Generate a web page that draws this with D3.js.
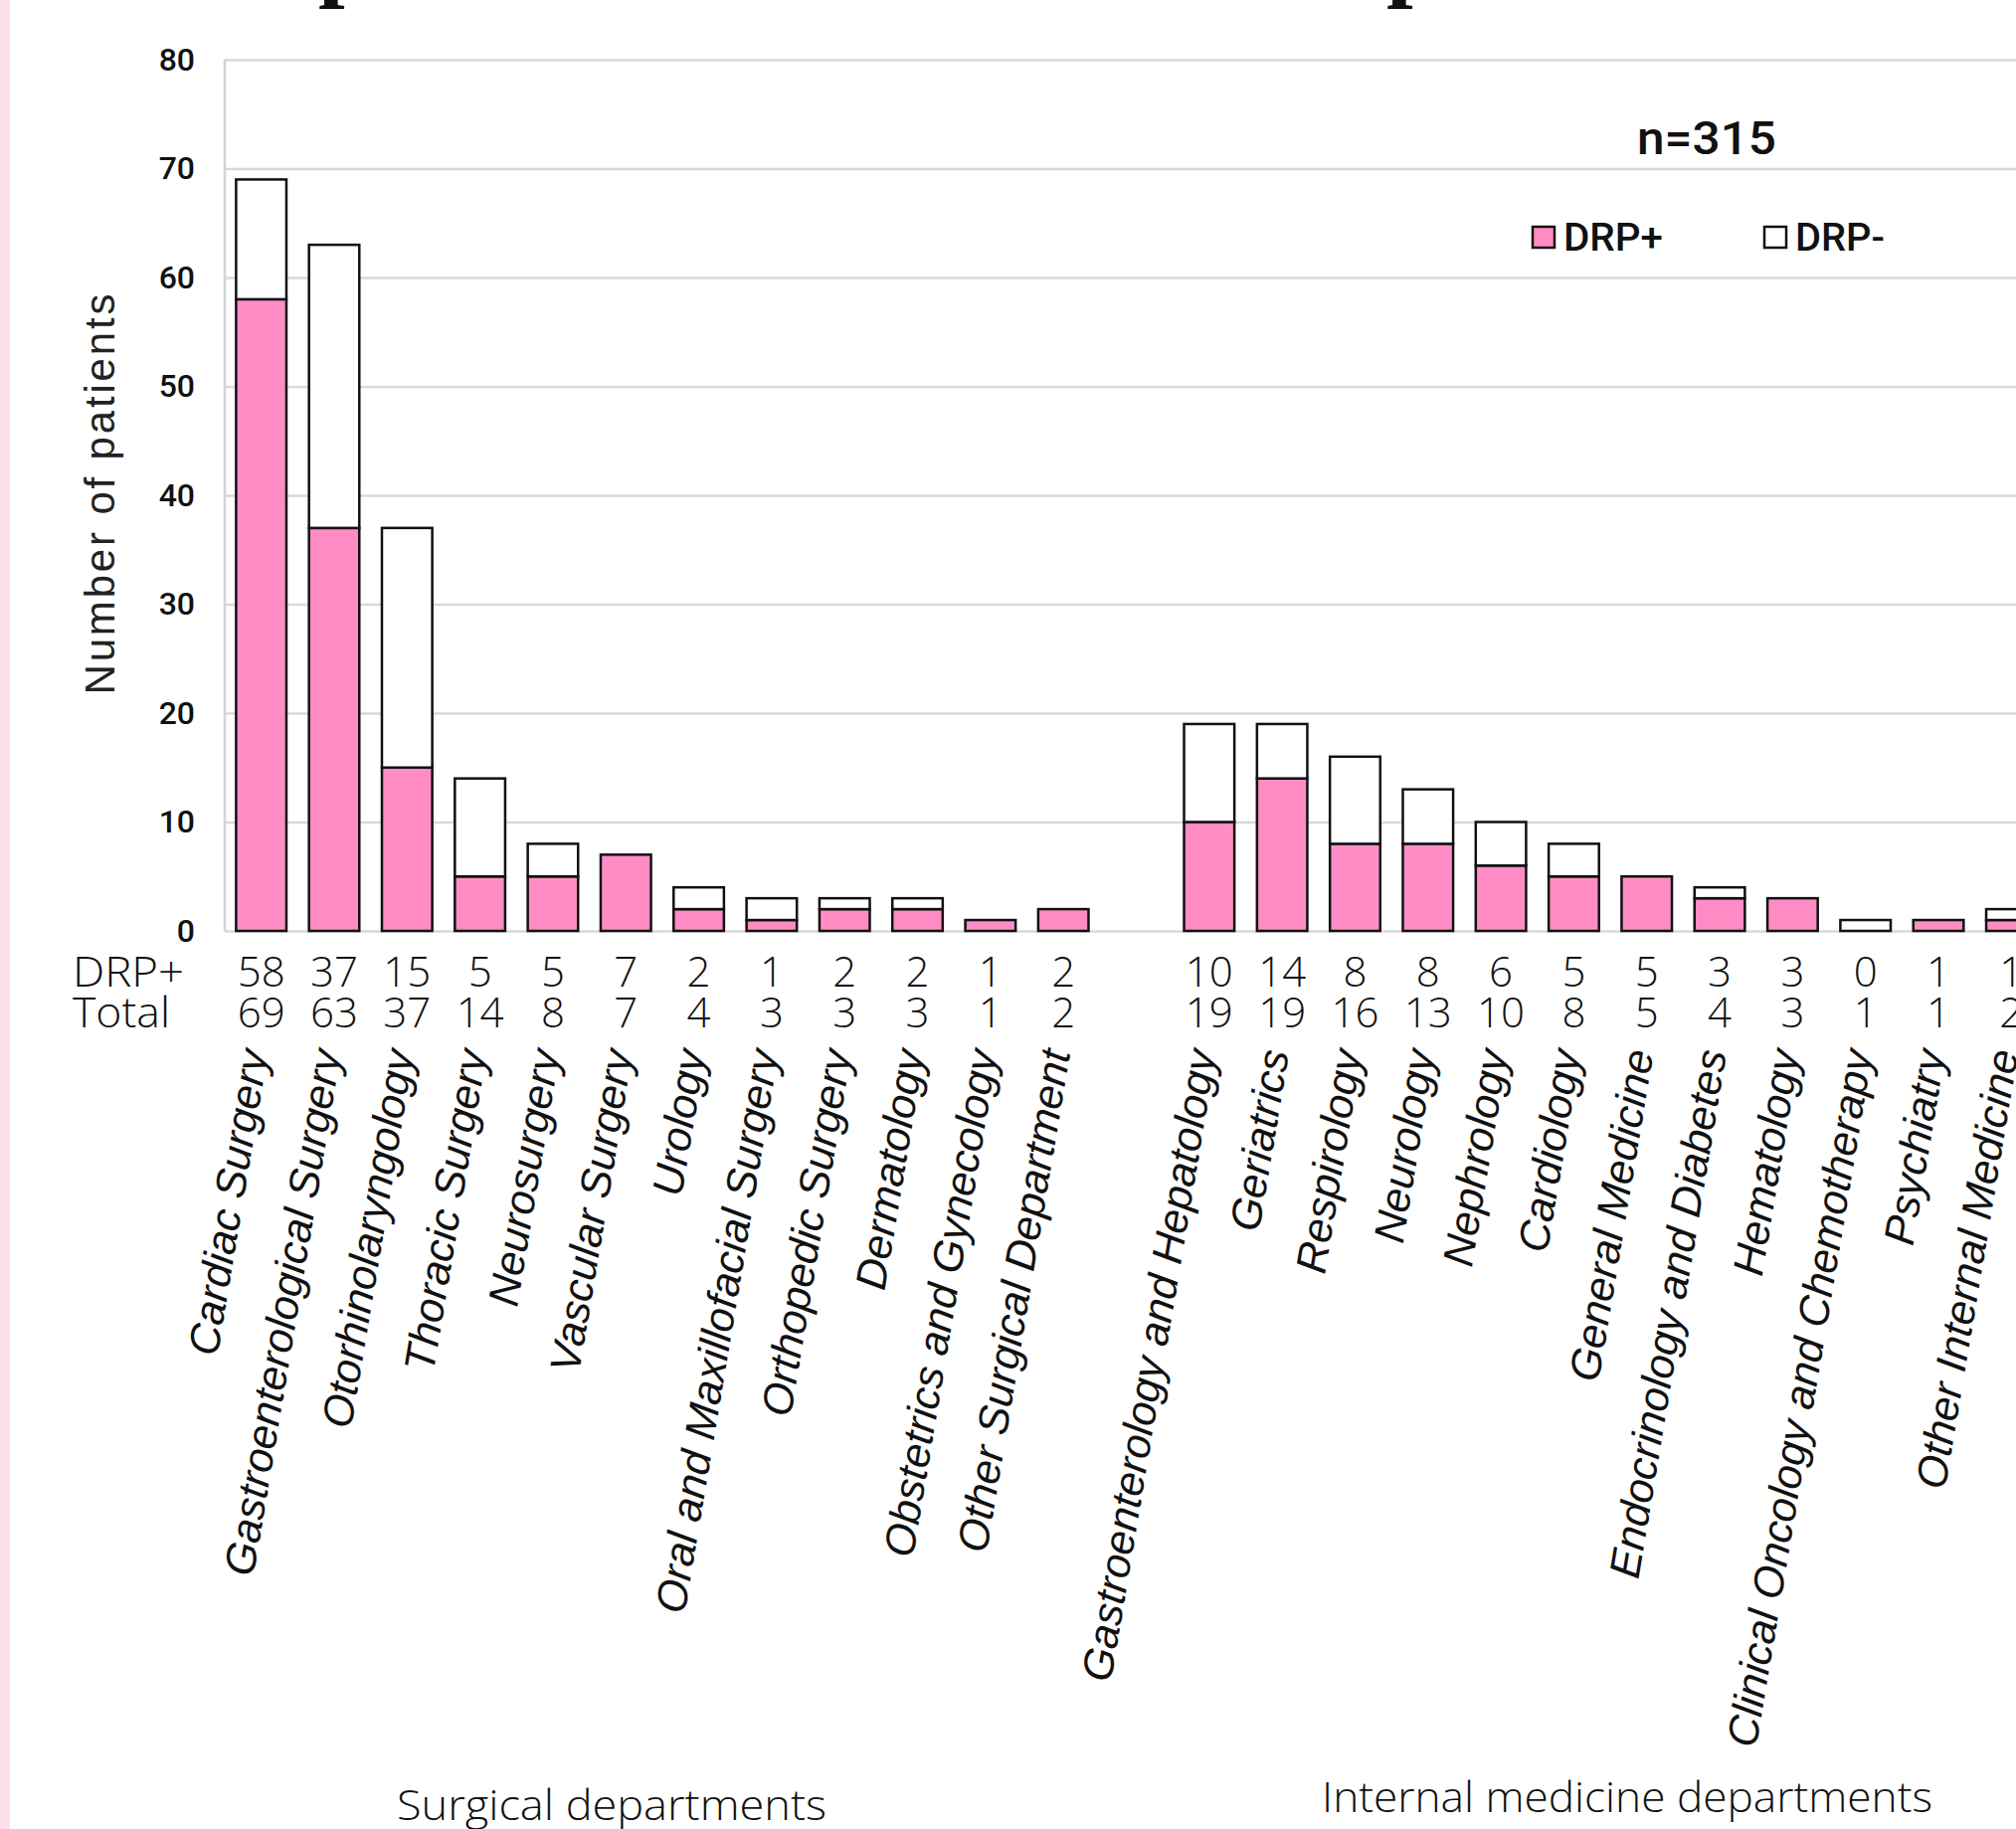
<!DOCTYPE html>
<html><head><meta charset="utf-8">
<script src="https://cdn.jsdelivr.net/npm/d3@7"></script>
<style>html,body{margin:0;padding:0;background:#fff;overflow:hidden} svg{display:block}</style>
</head><body>
<svg id="chart" width="2027" height="1839"></svg>
<script>
// ---- data ----
const surgicalDepts = ["Cardiac Surgery","Gastroenterological Surgery","Otorhinolaryngology","Thoracic Surgery","Neurosurgery","Vascular Surgery","Urology","Oral and Maxillofacial Surgery","Orthopedic Surgery","Dermatology","Obstetrics and Gynecology","Other Surgical Department"];
const surgicalDrpPlus = [58,37,15,5,5,7,2,1,2,2,1,2];
const surgicalTotal   = [69,63,37,14,8,7,4,3,3,3,1,2];
const internalDepts = ["Gastroenterology and Hepatology","Geriatrics","Respirology","Neurology","Nephrology","Cardiology","General Medicine","Endocrinology and Diabetes","Hematology","Clinical Oncology and Chemotherapy","Psychiatry","Other Internal Medicine"];
const internalDrpPlus = [10,14,8,8,6,5,5,3,3,0,1,1];
const internalTotal   = [19,19,16,13,10,8,5,4,3,1,1,2];
const yTicks = [0,10,20,30,40,50,60,70,80];
const rowLabels = ["DRP+","Total"];
const legendLabels = ["DRP+","DRP-"];
const groupLabels = ["Surgical departments","Internal medicine departments"];
const sampleLabel = "n=315";
const yTitle = "Number of patients";

// ---- build rows ----
const rows = [];
surgicalDepts.forEach((d,i)=>rows.push({key:"s"+i,name:d,plus:surgicalDrpPlus[i],total:surgicalTotal[i]}));
const slots = rows.map(r=>r.key).concat(["gap"]);
internalDepts.forEach((d,i)=>rows.push({key:"m"+i,name:d,plus:internalDrpPlus[i],total:internalTotal[i]}));
rows.slice(surgicalDepts.length).forEach(r=>slots.push(r.key));

const PINK = "#ff8cc5";
const svg = d3.select("#chart");
const W = 2027;

const x = d3.scaleBand().domain(slots).range([226, 2059]).paddingInner(0.31).paddingOuter(0.155);
const y = d3.scaleLinear().domain([0,80]).range([936,60]);

// left pink strip
svg.append("rect").attr("x",0).attr("y",0).attr("width",10).attr("height",1839).attr("fill","#fde0ee");

// cropped title fragments
svg.append("g").selectAll("text").data([320,1394]).join("text")
  .attr("x",d=>d).attr("y",-11).text("p")
  .attr("font-family","Liberation Serif, DejaVu Serif, serif").attr("font-weight","bold")
  .attr("font-size",96).attr("fill","#111");

// gridlines
svg.append("g").attr("transform","translate(226,0)")
  .call(d3.axisLeft(y).tickValues(yTicks).tickSize(-(W-226)).tickFormat(""))
  .call(g=>g.select(".domain").remove())
  .call(g=>g.selectAll("line").attr("stroke","#d9d9d9").attr("stroke-width",2.5));
// y axis line
svg.append("line").attr("x1",226).attr("x2",226).attr("y1",y(80)).attr("y2",y(0))
  .attr("stroke","#d4d4d4").attr("stroke-width",2.5);

// tick labels
svg.append("g").attr("transform","translate(226,0)")
  .call(d3.axisLeft(y).tickValues(yTicks).tickSize(0).tickPadding(30))
  .call(g=>g.select(".domain").remove())
  .call(g=>g.selectAll("text").attr("font-family","Roboto, Liberation Sans, sans-serif")
      .attr("font-weight",500).attr("font-size",32).attr("fill","#111"));

// y title
svg.append("text").attr("transform","translate(115,497) rotate(-90)")
  .attr("text-anchor","middle").attr("font-family","Liberation Sans, Arial, sans-serif")
  .attr("font-size",42).attr("fill","#222").attr("textLength",403).attr("lengthAdjust","spacing")
  .text(yTitle);

// bars
const bars = svg.append("g");
bars.selectAll("rect.plus").data(rows.filter(r=>r.plus>0)).join("rect").attr("class","plus")
  .attr("x",d=>x(d.key)).attr("width",x.bandwidth())
  .attr("y",d=>y(d.plus)).attr("height",d=>y(0)-y(d.plus))
  .attr("fill",PINK).attr("stroke","#111").attr("stroke-width",2.5);
bars.selectAll("rect.minus").data(rows.filter(r=>r.total>r.plus)).join("rect").attr("class","minus")
  .attr("x",d=>x(d.key)).attr("width",x.bandwidth())
  .attr("y",d=>y(d.total)).attr("height",d=>y(d.plus)-y(d.total))
  .attr("fill","#fff").attr("stroke","#111").attr("stroke-width",2.5);

// data table
const numFont = "Open Sans, Liberation Sans, sans-serif";
const cx = d=>x(d.key)+x.bandwidth()/2;
svg.append("g").selectAll("text").data(rows).join("text")
  .attr("x",cx).attr("y",992).attr("text-anchor","middle")
  .attr("font-family",numFont).attr("font-weight",300).attr("font-size",42).attr("fill","#111")
  .text(d=>d.plus);
svg.append("g").selectAll("text").data(rows).join("text")
  .attr("x",cx).attr("y",1033).attr("text-anchor","middle")
  .attr("font-family",numFont).attr("font-weight",300).attr("font-size",42).attr("fill","#111")
  .text(d=>d.total);
svg.append("g").selectAll("text").data(rowLabels).join("text")
  .attr("x",73).attr("y",(d,i)=>i?1033:992)
  .attr("font-family",numFont).attr("font-weight",300).attr("font-size",42).attr("fill","#111")
  .attr("textLength",(d,i)=>i?98:112).attr("lengthAdjust","spacingAndGlyphs")
  .text(d=>d);

// category labels
svg.append("g").selectAll("text").data(rows).join("text")
  .attr("transform",d=>`translate(${cx(d)+7},1058) rotate(-80.5)`)
  .attr("text-anchor","end").attr("font-family","Liberation Sans, Arial, sans-serif")
  .attr("font-style","italic").attr("font-size",43).attr("fill","#111")
  .text(d=>d.name);

// legend
svg.append("text").attr("x",1716).attr("y",155).attr("text-anchor","middle")
  .attr("font-family","Roboto, Liberation Sans, sans-serif").attr("font-weight",500)
  .attr("font-size",46).attr("fill","#111").attr("textLength",140).attr("lengthAdjust","spacingAndGlyphs")
  .text(sampleLabel);
const leg = svg.append("g").selectAll("g").data(legendLabels).join("g")
  .attr("transform",(d,i)=>`translate(${i?1774:1541},228)`);
leg.append("rect").attr("width",22).attr("height",21)
  .attr("fill",(d,i)=>i?"#fff":PINK).attr("stroke","#111").attr("stroke-width",2.5);
leg.append("text").attr("x",31).attr("y",24)
  .attr("font-family","Roboto, Liberation Sans, sans-serif").attr("font-weight",500)
  .attr("font-size",39).attr("fill","#111")
  .attr("textLength",(d,i)=>i?90:100).attr("lengthAdjust","spacingAndGlyphs")
  .text(d=>d);

// group labels
svg.append("g").selectAll("text").data(groupLabels).join("text")
  .attr("x",(d,i)=>i?1636:615).attr("y",(d,i)=>i?1822:1830).attr("text-anchor","middle")
  .attr("font-family",numFont).attr("font-weight",300).attr("font-size",42).attr("fill","#111")
  .attr("textLength",(d,i)=>i?614:432).attr("lengthAdjust","spacingAndGlyphs")
  .text(d=>d);
</script>
</body></html>
